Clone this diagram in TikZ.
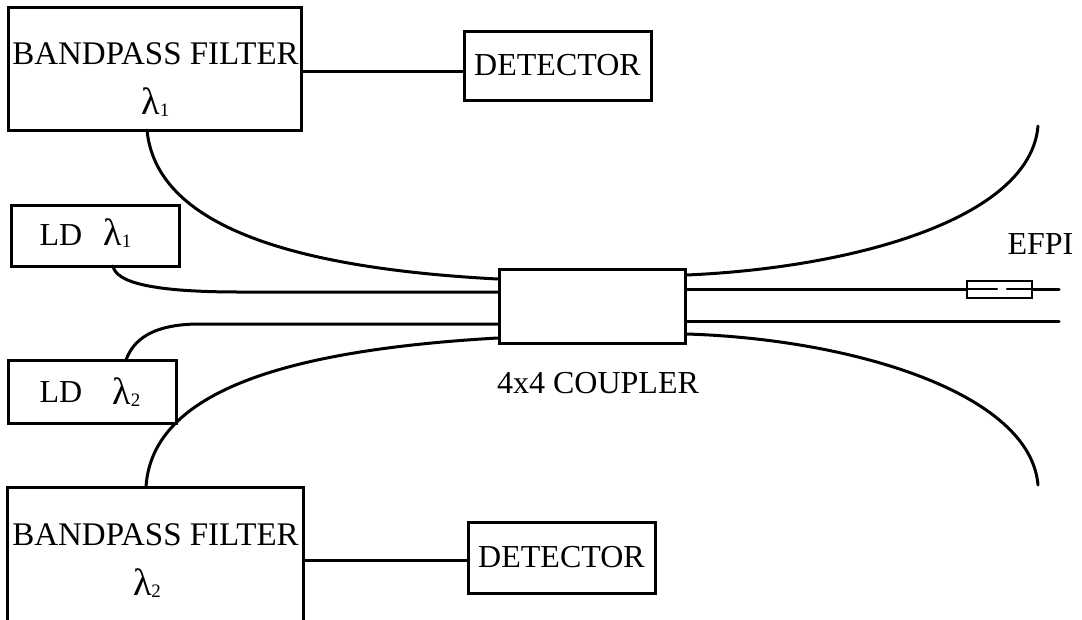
\documentclass[tikz,border=0pt]{standalone}
\usepackage{fontspec}
\setmainfont{Liberation Serif}
\newcommand{\lam}[1]{{\fontsize{38}{40}\selectfont λ}{\fontsize{19}{19}\selectfont\raisebox{-2pt}{#1}}}

\begin{document}
\begin{tikzpicture}[
  x=1pt, y=-1pt,
  box/.style={rectangle, draw=black, line width=3pt, inner sep=0pt},
  txt/.style={font=\fontsize{32}{36}\selectfont, inner sep=0pt, text=black},
  fibre/.style={line width=3pt, draw=black},
  line cap=round
]
\useasboundingbox (0,0) rectangle (1082,619);

% ── Boxes ──
\node[box, minimum width=293pt, minimum height=123pt] (bpfa) at (154.5,68.5) {};
\node[box, minimum width=296pt, minimum height=160pt] (bpfb) at (155,567) {};
\node[box, txt, minimum width=187pt, minimum height=69pt] (deta) at (557.5,65.5) {DETECTOR};
\node[box, txt, minimum width=187pt, minimum height=71pt] (detb) at (561.5,557.5) {DETECTOR};
\node[box, minimum width=168pt, minimum height=61pt] (lda) at (95,235.5) {};
\node[box, minimum width=168pt, minimum height=63pt] (ldb) at (92,391.5) {};
\node[box, minimum width=186pt, minimum height=74pt] (coupler) at (592,306) {};
\node[box, line width=2.2pt, minimum width=65pt, minimum height=17pt] (efpi) at (999.5,289.5) {};

% ── Labels ──
\node[txt, font=\fontsize{33}{36}\selectfont] (bpfatxt) at (155.5,54) {BANDPASS FILTER};
\node[txt] (bpfal) at (155.5,102) {\lam{1}};
\node[txt, font=\fontsize{33}{36}\selectfont] (bpfbtxt) at (155.5,535) {BANDPASS FILTER};
\node[txt] (bpfbl) at (147,583) {\lam{2}};
\node[txt] (ldatxt) at (61,235.5) {LD};
\node[txt] (ldal) at (117.5,233.5) {\lam{1}};
\node[txt] (ldbtxt) at (61,392.5) {LD};
\node[txt] (ldbl) at (126.5,392) {\lam{2}};
\node[txt] (couplertxt) at (598,383) {4x4 COUPLER};
\node[txt] (efpitxt) at (1040.5,244) {EFPI};

% ── Fibre ends ──
\coordinate (ina) at (coupler.west |- 0,279);
\coordinate (inb) at (coupler.west |- 0,292);
\coordinate (inc) at (coupler.west |- 0,324);
\coordinate (ind) at (coupler.west |- 0,338);
\coordinate (outa) at (coupler.east |- 0,275);
\coordinate (outb) at (coupler.east |- 0,289);
\coordinate (outc) at (coupler.east |- 0,321);
\coordinate (outd) at (coupler.east |- 0,334);
\coordinate (enda) at (1038,126);
\coordinate (endb) at (1059,289);
\coordinate (endc) at (1059,321);
\coordinate (endd) at (1038,485);
\coordinate (gapa) at (997,289);
\coordinate (gapb) at (1007,289);

% ── Detector lines ──
\draw[fibre] (bpfa.east |- 0,71) -- (deta.west |- 0,71);
\draw[fibre] (bpfb.east |- 0,560) -- (detb.west |- 0,560);

% ── Left fibres ──
\draw[fibre] (147,130) .. controls (156,225) and (290,268) .. (ina);
\draw[fibre] (113,266) .. controls (116,282) and (150,292) .. (240,292) -- (inb);
\draw[fibre] (126,360) .. controls (135,335) and (160,324) .. (200,324) -- (inc);
\draw[fibre] (146,487) .. controls (152,390) and (290,350) .. (ind);

% ── Right fibres ──
\draw[fibre] (outa) .. controls (850,268) and (1030,220) .. (enda);
\draw[fibre] (outb) -- (efpi.west |- outb);
\draw[fibre] (efpi.east |- outb) -- (endb);
\draw[fibre] (outc) -- (endc);
\draw[fibre] (outd) .. controls (850,339) and (1030,392) .. (endd);

% ── EFPI inside ──
\draw[fibre, line width=2.2pt] (efpi.west |- gapa) -- (gapa);
\draw[fibre, line width=2.2pt] (gapb) -- (efpi.east |- gapb);
\end{tikzpicture}
\end{document}
